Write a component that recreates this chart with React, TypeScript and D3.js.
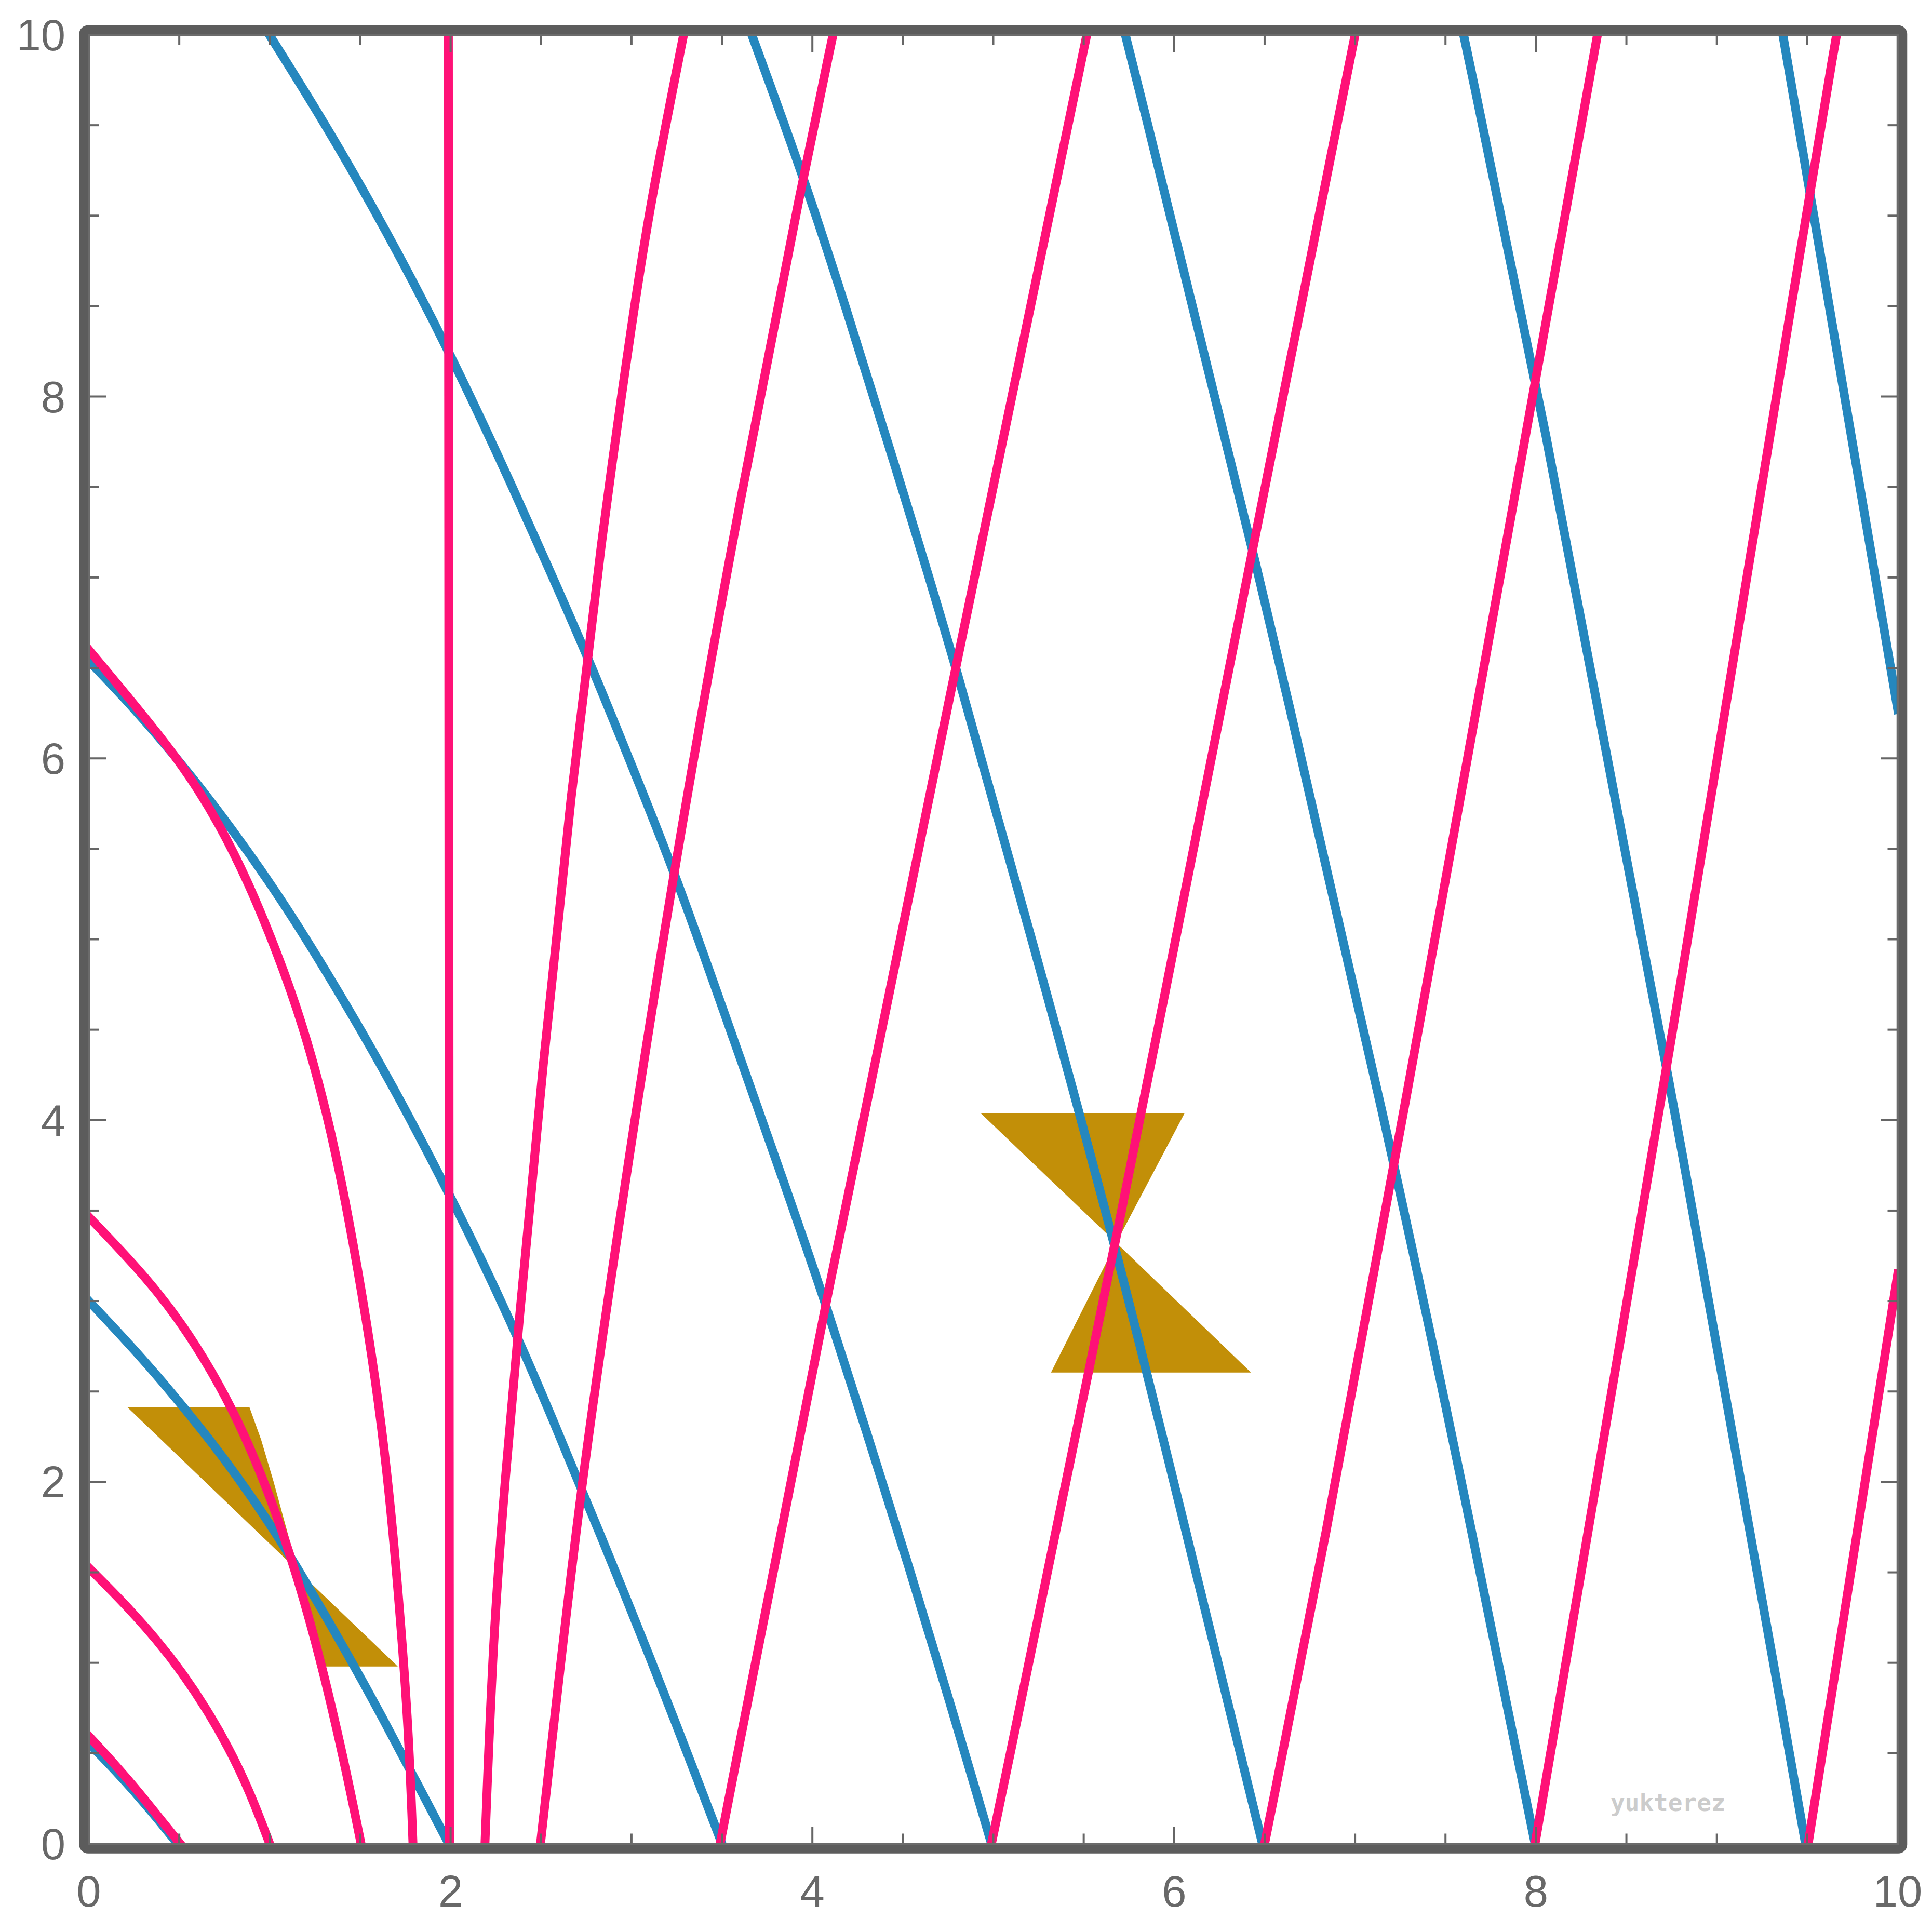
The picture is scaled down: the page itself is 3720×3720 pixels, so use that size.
import React from "react";
import * as d3 from "d3";

type P = [number, number];

// ---- axis / tick data ----
const xLabels = [0, 2, 4, 6, 8, 10];
const yLabels = [0, 2, 4, 6, 8, 10];
const tickValues = d3.range(0, 10.0001, 0.5);
const majorTicks = [0, 2, 4, 6, 8, 10];

// ---- blue series (ingoing rays) ----
const blue1: P[] = [[0, 0.555], [0.123, 0.43], [0.25, 0.29], [0.37, 0.15], [0.49, 0]];
const blue2: P[] = [[0, 3.0], [0.197, 2.791], [0.403, 2.56], [0.632, 2.281], [0.815, 2.039], [1.0, 1.771], [1.16, 1.515], [1.433, 1.045], [1.616, 0.712], [1.8, 0.362], [1.99, 0]];
const blue3: P[] = [[0, 6.54], [0.2, 6.33], [0.38, 6.127], [0.56, 5.911], [0.79, 5.612], [1.02, 5.285], [1.2, 5.006], [1.43, 4.626], [1.62, 4.295], [1.8, 3.964], [1.996, 3.584], [2.17, 3.233], [2.37, 2.803], [2.58, 2.31], [2.71, 1.991], [2.83, 1.703], [2.965, 1.372], [3.1, 1.035], [3.24, 0.678], [3.38, 0.314], [3.5, 0]];
const blue4: P[] = [[0.998, 10], [1.296, 9.525], [1.571, 9.048], [1.8, 8.622], [1.99, 8.25], [2.257, 7.69], [2.532, 7.075], [2.755, 6.57], [3.0, 5.965], [3.235, 5.38], [3.5, 4.63], [3.843, 3.656], [4.073, 2.99], [4.301, 2.27], [4.53, 1.545], [4.758, 0.79], [4.99, 0]];
const blue5: P[] = [[3.665, 10], [3.95, 9.22], [4.186, 8.49], [4.438, 7.68], [4.795, 6.515], [5.205, 5.025], [5.674, 3.327], [6.132, 1.45], [6.488, 0]];
const blue6: P[] = [[5.73, 10], [6.437, 7.18], [7.22, 3.76], [7.57, 2.1], [7.995, 0]];
const blue7: P[] = [[7.6, 10], [8.0, 8.1], [8.73, 4.3], [9.49, 0]];
const blue8: P[] = [[9.365, 10], [9.513, 9.14], [10, 6.27]];

// ---- pink series (outgoing rays) ----
const pink1: P[] = [[0, 0.595], [0.152, 0.43], [0.28, 0.28], [0.4, 0.13], [0.505, 0]];
const pink2: P[] = [[0, 1.525], [0.197, 1.328], [0.38, 1.123], [0.518, 0.944], [0.655, 0.738], [0.77, 0.537], [0.884, 0.303], [1.0, 0]];
const pink3: P[] = [[0, 3.465], [0.197, 3.26], [0.38, 3.053], [0.55, 2.823], [0.724, 2.536], [0.86, 2.264], [0.998, 1.933], [1.147, 1.501], [1.284, 1.008], [1.41, 0.466], [1.505, 0]];
const pink4: P[] = [[0, 6.6], [0.2, 6.36], [0.38, 6.14], [0.56, 5.9], [0.72, 5.64], [0.88, 5.32], [1.04, 4.93], [1.18, 4.54], [1.32, 4.03], [1.433, 3.49], [1.57, 2.69], [1.66, 1.98], [1.73, 1.16], [1.77, 0.58], [1.792, 0]];
const pink5: P[] = [[1.988, 10], [1.991, 5], [1.994, 0]];
const pink6: P[] = [[2.19, 0], [2.235, 1.15], [2.3, 2.0], [2.37, 2.8], [2.51, 4.31], [2.665, 5.8], [2.83, 7.19], [3.01, 8.47], [3.11, 9.1], [3.288, 10]];
const pink7: P[] = [[2.497, 0], [2.575, 0.7], [2.72, 1.98], [2.932, 3.444], [3.235, 5.41], [3.614, 7.515], [3.95, 9.22], [4.114, 10]];
const pink8: P[] = [[3.49, 0], [4.073, 3.007], [4.795, 6.515], [5.517, 10]];
const pink9: P[] = [[4.99, 0], [5.68, 3.32], [6.437, 7.18], [7.0, 10]];
const pink10: P[] = [[6.5, 0], [6.83, 1.65], [7.22, 3.77], [8.0, 8.1], [8.34, 10]];
const pink11: P[] = [[7.995, 0], [8.73, 4.3], [9.513, 9.14], [9.662, 10]];
const pink12: P[] = [[9.505, 0], [10, 3.15]];

const blueSeries = [blue1, blue2, blue3, blue4, blue5, blue6, blue7, blue8];
const pinkSeries = [pink1, pink2, pink3, pink4, pink5, pink6, pink7, pink8, pink9, pink10, pink11, pink12];

// ---- gold light-cone shapes ----
const goldShapes: P[][] = [
  [[4.93, 4.039], [6.058, 4.039], [5.68, 3.322]],
  [[5.68, 3.322], [6.425, 2.605], [5.319, 2.605]],
  [[0.213, 2.413], [0.888, 2.413], [0.953, 2.232], [1.021, 2.003], [1.09, 1.751], [1.155, 1.51]],
  [[1.155, 1.51], [1.19, 1.339], [1.227, 1.156], [1.262, 0.98], [1.708, 0.98]],
];

const W = 3720;
const H = 3720;
const X0 = 171, X1 = 3654, Y0 = 3550, Y1 = 67;

export default function App() {
  const x = d3.scaleLinear().domain([0, 10]).range([X0, X1]);
  const y = d3.scaleLinear().domain([0, 10]).range([Y0, Y1]);
  const line = d3
    .line<P>()
    .x((d) => x(d[0]))
    .y((d) => y(d[1]))
    .curve(d3.curveBasis);
  const poly = d3
    .line<P>()
    .x((d) => x(d[0]))
    .y((d) => y(d[1]))
    .curve(d3.curveLinearClosed);

  const blue = "#2587be";
  const pink = "#ff1177";
  const gold = "#c28f08";
  const tickColor = "#666666";
  const textColor = "#686868";
  const font = "'Liberation Sans', Arial, Helvetica, sans-serif";
  const sw = 17;

  const tickLen = (v: number) => (majorTicks.some((m) => Math.abs(m - v) < 1e-6) ? 33 : 19.5);

  return (
    <svg
      width={W}
      height={H}
      viewBox={`0 0 ${W} ${H}`}
      style={{ position: "absolute", left: 0, top: 0, display: "block", background: "#ffffff" }}
    >
      <rect x={0} y={0} width={W} height={H} fill="#ffffff" />
      <defs>
        <clipPath id="plotClip">
          <rect x={X0} y={Y1} width={X1 - X0} height={Y0 - Y1} />
        </clipPath>
      </defs>
      <g clipPath="url(#plotClip)">
        {goldShapes.map((s, i) => (
          <path key={"g" + i} d={poly(s) || ""} fill={gold} stroke="none" />
        ))}
        {blueSeries.map((s, i) => (
          <path key={"b" + i} d={line(s) || ""} fill="none" stroke={blue} strokeWidth={sw} strokeLinecap="square" strokeLinejoin="round" />
        ))}
        {pinkSeries.map((s, i) => (
          <path key={"p" + i} d={line(s) || ""} fill="none" stroke={pink} strokeWidth={sw} strokeLinecap="square" strokeLinejoin="round" />
        ))}
      </g>
      {/* ticks on all four sides */}
      <g stroke={tickColor} strokeWidth={4}>
        {tickValues.map((v, i) => (
          <g key={"t" + i}>
            <line x1={x(v)} x2={x(v)} y1={Y0} y2={Y0 - tickLen(v)} />
            <line x1={x(v)} x2={x(v)} y1={Y1} y2={Y1 + tickLen(v)} />
            <line x1={X0} x2={X0 + tickLen(v)} y1={y(v)} y2={y(v)} />
            <line x1={X1} x2={X1 - tickLen(v)} y1={y(v)} y2={y(v)} />
          </g>
        ))}
      </g>
      {/* frame */}
      <rect x={162.5} y={59} width={3499.5} height={3499.5} rx={7} ry={7} fill="none" stroke="#5c5c5c" strokeWidth={20.5} />
      <rect x={X0} y={Y1} width={X1 - X0} height={Y0 - Y1} fill="none" stroke="#6b6b6b" strokeWidth={4} />
      {/* labels */}
      {xLabels.map((v) => (
        <text key={"xl" + v} x={x(v)} y={3671} textAnchor="middle" fontFamily={font} fontSize={85} fill={textColor}>
          {v}
        </text>
      ))}
      {yLabels.map((v) => (
        <text key={"yl" + v} x={126} y={y(v) + 30} textAnchor="end" fontFamily={font} fontSize={85} fill={textColor}>
          {v}
        </text>
      ))}
      <text x={3101} y={3487} fontFamily="'DejaVu Sans Mono', monospace" fontWeight="bold" fontSize={46} fill="#cccccc">
        yukterez
      </text>
    </svg>
  );
}
